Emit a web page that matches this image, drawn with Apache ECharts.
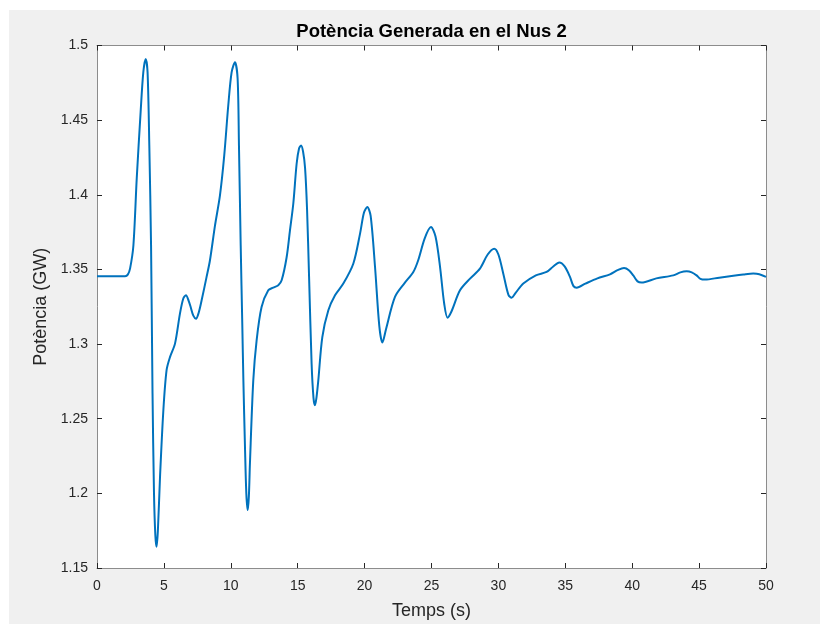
<!DOCTYPE html>
<html>
<head>
<meta charset="utf-8">
<script src="https://cdn.jsdelivr.net/npm/echarts@6/dist/echarts.min.js"></script>
<style>
html,body{margin:0;padding:0;background:#fff;width:820px;height:624px;overflow:hidden;}
#c{position:absolute;left:9px;top:10px;width:811px;height:614px;}
</style>
</head>
<body>
<div id="c"></div>
<script>
const title = 'Potència Generada en el Nus 2';
const xName = 'Temps (s)';
const yName = 'Potència (GW)';
const xTicks = [0, 5, 10, 15, 20, 25, 30, 35, 40, 45, 50];
const yTicks = [1.15, 1.2, 1.25, 1.3, 1.35, 1.4, 1.45, 1.5];
const time = [0,1,2.1,2.3,2.47,2.72,2.97,3.26,3.46,3.64,3.78,3.91,4.04,4.15,4.26,4.36,4.45,4.55,4.71,4.96,5.2,5.46,5.83,6.2,6.45,6.65,6.85,7.0,7.2,7.4,7.6,7.82,8.19,8.44,8.82,9.19,9.51,9.81,10.06,10.31,10.51,10.61,10.74,10.86,10.94,11.06,11.16,11.26,11.35,11.43,11.68,11.93,12.3,12.8,13.17,13.55,13.8,14.17,14.42,14.67,14.92,15.1,15.25,15.4,15.55,15.7,15.85,16.04,16.18,16.29,16.4,16.54,16.84,17.29,17.79,18.41,19.16,19.66,19.95,20.2,20.45,20.78,21.1,21.33,21.6,22.27,23.0,23.64,24.0,24.5,24.96,25.3,25.64,25.95,26.2,26.5,27.13,27.9,28.62,29.2,29.69,30.0,30.37,30.75,30.99,31.3,31.86,32.8,33.6,34.1,34.55,34.95,35.35,35.6,35.85,36.5,37.4,38.34,38.9,39.39,39.75,40.08,40.4,40.7,41.8,43.07,43.6,44.07,44.45,44.81,45.1,45.44,46.5,47.56,48.3,49.05,49.5,50];
const power = [1.3455,1.3455,1.3455,1.3465,1.3505,1.366,1.411,1.4554,1.482,1.491,1.482,1.433,1.366,1.267,1.2,1.172,1.1642,1.175,1.211,1.2557,1.2825,1.2914,1.3003,1.3204,1.3305,1.3327,1.329,1.3248,1.319,1.317,1.321,1.3293,1.345,1.356,1.3795,1.3996,1.4264,1.4598,1.482,1.4888,1.4777,1.433,1.366,1.3126,1.2757,1.2311,1.2,1.1888,1.198,1.22,1.2757,1.3025,1.3248,1.336,1.3378,1.3394,1.3427,1.358,1.376,1.394,1.4208,1.431,1.433,1.429,1.418,1.39,1.345,1.2868,1.264,1.259,1.264,1.2757,1.3047,1.3226,1.3327,1.3405,1.354,1.374,1.388,1.3918,1.386,1.3516,1.312,1.301,1.31,1.3316,1.341,1.3483,1.356,1.371,1.3784,1.372,1.3516,1.327,1.3177,1.322,1.336,1.344,1.3505,1.36,1.3639,1.36,1.347,1.333,1.3311,1.3345,1.3405,1.346,1.3483,1.352,1.3546,1.352,1.345,1.339,1.3378,1.3405,1.344,1.3467,1.3495,1.351,1.3495,1.346,1.342,1.3412,1.344,1.346,1.348,1.3487,1.348,1.346,1.3437,1.3432,1.3445,1.3458,1.3466,1.3472,1.3468,1.345];

const frameColor = '#8c8c8c';
const textColor = '#262626';
const font = 'Liberation Sans, Arial, Helvetica, sans-serif';

const chart = echarts.init(document.getElementById('c'), null, {renderer: 'canvas'});
const tickStyle = {show: true, inside: true, length: 5, lineStyle: {color: '#262626', width: 1}};
const xBase = {type: 'value', min: 0, max: 50, interval: 5, splitLine: {show: false},
  axisLine: {show: true, onZero: false, lineStyle: {color: frameColor, width: 1}}, axisTick: tickStyle};
const yBase = {type: 'value', min: 1.15, max: 1.5, interval: 0.05, splitLine: {show: false},
  axisLine: {show: true, onZero: false, lineStyle: {color: frameColor, width: 1}}, axisTick: tickStyle};
chart.setOption({
  backgroundColor: '#f0f0f0',
  animation: false,
  title: {text: title, left: 422.5, textAlign: 'center', top: 12, padding: 0,
    textStyle: {fontFamily: font, fontWeight: 'bold', fontSize: 18.5, color: '#000'}},
  grid: {left: 88, top: 35.5, right: 54, bottom: 56, show: true, backgroundColor: '#fff', borderWidth: 0,
    outerBoundsMode: 'none', containLabel: false},
  xAxis: [
    Object.assign({}, xBase, {position: 'bottom', name: xName, nameLocation: 'middle', nameGap: 34,
      nameTextStyle: {fontFamily: font, fontSize: 18, color: textColor},
      axisLabel: {fontFamily: font, fontSize: 14, color: textColor, margin: 11,
        formatter: v => xTicks.includes(v) ? String(v) : ''}}),
    Object.assign({}, xBase, {position: 'top', axisLabel: {show: false}})
  ],
  yAxis: [
    Object.assign({}, yBase, {position: 'left', name: yName, nameLocation: 'middle', nameGap: 47,
      nameTextStyle: {fontFamily: font, fontSize: 18, color: textColor},
      axisLabel: {fontFamily: font, fontSize: 14, color: textColor, margin: 9,
        formatter: v => { const t = yTicks.find(k => Math.abs(k - v) < 1e-9); return t === undefined ? '' : String(t); }}}),
    Object.assign({}, yBase, {position: 'right', axisLabel: {show: false}})
  ],
  series: [{
    type: 'line',
    data: time.map((t, i) => [t, power[i]]),
    showSymbol: false,
    smooth: 0.3,
    lineStyle: {color: '#0072BD', width: 2},
    xAxisIndex: 0, yAxisIndex: 0
  }]
});
</script>
</body>
</html>
